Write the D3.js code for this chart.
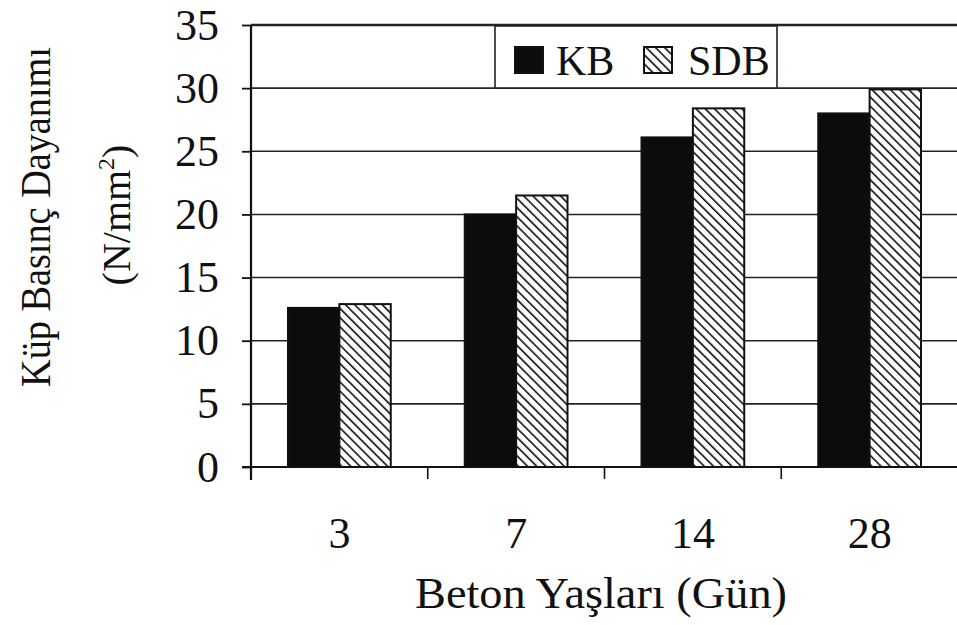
<!DOCTYPE html>
<html><head><meta charset="utf-8">
<script src="https://cdn.jsdelivr.net/npm/d3@7"></script>
<style>body{margin:0;background:#fff}svg{display:block}</style>
</head><body>
<script>
const categories = ["3", "7", "14", "28"];
const seriesNames = ["KB", "SDB"];
const kbValues = [12.6, 20.0, 26.1, 28.0];
const sdbValues = [12.9, 21.5, 28.4, 29.9];
const yTicks = [0, 5, 10, 15, 20, 25, 30, 35];

(function () {
const W = 957, H = 625;
const svg = d3.select("body").append("svg").attr("width", W).attr("height", H);
const font = "'Liberation Serif', 'Times New Roman', serif";

const defs = svg.append("defs");
const P = 6.5;
const pat = defs.append("pattern").attr("id", "hatch").attr("patternUnits", "userSpaceOnUse")
  .attr("width", P).attr("height", P).attr("patternTransform", "rotate(-45)");
pat.append("rect").attr("width", P).attr("height", P).attr("fill", "#fff");
pat.append("line").attr("x1", 0).attr("y1", 0).attr("x2", 0).attr("y2", P)
  .attr("stroke", "#111").attr("stroke-width", 3.2);

const mLeft = 251, mRight = 958, mTop = 25, mBottom = 467;
const x = d3.scaleBand().domain(categories).range([mLeft, mRight]).padding(0);
const xs = d3.scaleBand().domain(seriesNames).range([0, x.bandwidth()]).paddingInner(0).paddingOuter(0.72);
const y = d3.scaleLinear().domain([0, 35]).range([mBottom, mTop]);

// gridlines
svg.append("g").selectAll("line").data(yTicks.filter(d => d > 0)).join("line")
  .attr("x1", mLeft).attr("x2", mRight).attr("y1", d => y(d)).attr("y2", d => y(d))
  .attr("stroke", "#222").attr("stroke-width", d => d === 35 ? 2.5 : 1.6);

// bars
const data = categories.map((c, i) => ({c, vals: [{s: "KB", v: kbValues[i]}, {s: "SDB", v: sdbValues[i]}]}));
const g = svg.append("g");
g.selectAll("g").data(data).join("g")
  .attr("transform", d => `translate(${x(d.c)},0)`)
  .selectAll("rect").data(d => d.vals).join("rect")
  .attr("x", d => xs(d.s)).attr("width", xs.bandwidth())
  .attr("y", d => y(d.v)).attr("height", d => y(0) - y(d.v))
  .attr("fill", d => d.s === "KB" ? "#0c0c0c" : "url(#hatch)")
  .attr("stroke", "#111").attr("stroke-width", 2);

// y axis
const yAxis = d3.axisLeft(y).tickValues(yTicks).tickSize(9).tickPadding(23);
const ya = svg.append("g").attr("transform", `translate(${mLeft},0)`).call(yAxis);
ya.select(".domain").remove();
ya.selectAll(".tick line").attr("stroke", "#111").attr("stroke-width", 1.8);
ya.selectAll("text").attr("font-family", font).attr("font-size", 44).attr("fill", "#111");
svg.append("line").attr("x1", mLeft).attr("x2", mLeft).attr("y1", mTop).attr("y2", 480)
  .attr("stroke", "#111").attr("stroke-width", 2.2);

// x axis
const xAxis = d3.axisBottom(x).tickSize(0).tickPadding(50);
const xa = svg.append("g").attr("transform", `translate(0,${mBottom})`).call(xAxis);
xa.select(".domain").remove();
xa.selectAll("text").attr("font-family", font).attr("font-size", 44).attr("fill", "#111");
svg.append("line").attr("x1", 242).attr("x2", mRight).attr("y1", mBottom).attr("y2", mBottom)
  .attr("stroke", "#111").attr("stroke-width", 2.2);
svg.append("g").selectAll("line").data(categories.slice(1)).join("line")
  .attr("x1", d => x(d)).attr("x2", d => x(d)).attr("y1", mBottom).attr("y2", mBottom + 12)
  .attr("stroke", "#111").attr("stroke-width", 1.6);

// titles
svg.append("text").attr("x", 601).attr("y", 608).attr("text-anchor", "middle")
  .attr("font-family", font).attr("font-size", 45).attr("fill", "#111")
  .attr("textLength", 372).attr("lengthAdjust", "spacingAndGlyphs").text("Beton Yaşları (Gün)");
svg.append("text").attr("transform", "translate(50,217) rotate(-90)").attr("text-anchor", "middle")
  .attr("font-family", font).attr("font-size", 42).attr("fill", "#111")
  .attr("textLength", 340).attr("lengthAdjust", "spacingAndGlyphs").text("Küp Basınç Dayanımı");
const t2 = svg.append("text").attr("transform", "translate(130,215) rotate(-90)").attr("text-anchor", "middle")
  .attr("font-family", font).attr("font-size", 40).attr("fill", "#111");
t2.append("tspan").text("(N/mm");
t2.append("tspan").attr("dy", -16).attr("font-size", 24).text("2");
t2.append("tspan").attr("dy", 16).text(")");

// legend
const lg = svg.append("g");
lg.append("rect").attr("x", 495).attr("y", 26).attr("width", 282).attr("height", 62)
  .attr("fill", "#fff").attr("stroke", "#222").attr("stroke-width", 1.6);
const legX = [515, 644];
const textX = [556, 688];
seriesNames.forEach((s, i) => {
  lg.append("rect").attr("x", legX[i]).attr("y", 47).attr("width", 28).attr("height", 26)
    .attr("fill", s === "KB" ? "#0c0c0c" : "url(#hatch)").attr("stroke", "#111").attr("stroke-width", 2);
  lg.append("text").attr("x", textX[i]).attr("y", 75).attr("font-family", font).attr("font-size", 42)
    .attr("fill", "#111").text(s);
});
})();
</script>
</body></html>
